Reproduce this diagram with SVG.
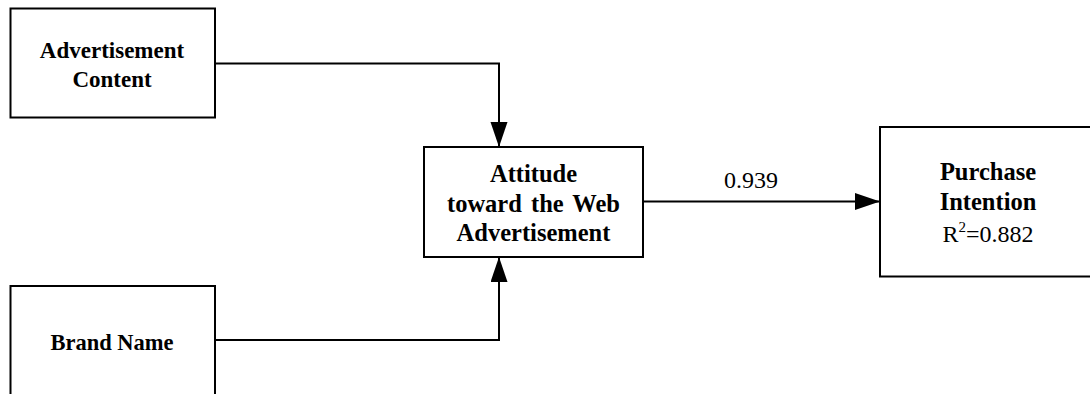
<svg xmlns="http://www.w3.org/2000/svg" width="1090" height="394" viewBox="0 0 1090 394">
<style>
.box{fill:#fff;stroke:#000;stroke-width:2}
text{font-family:'Liberation Serif',serif;fill:#000;text-anchor:middle}
.t{font-weight:bold}
.c{fill:none;stroke:#000;stroke-width:2}
</style>
<defs>
<marker id="ah" markerUnits="userSpaceOnUse" markerWidth="25" markerHeight="18" refX="25" refY="8.5" orient="auto">
<path d="M0,0 L25,8.5 L0,17 z" fill="#000"/>
</marker>
</defs>
<g id="connectors">
<path class="c" d="M215,63.5 H499 V147" marker-end="url(#ah)"/>
<path class="c" d="M215,340 H499 V257" marker-end="url(#ah)"/>
<path class="c" d="M643,201.5 H880" marker-end="url(#ah)"/>
<text x="751" y="188" font-size="24">0.939</text>
</g>
<g id="advertisement-content">
<rect class="box" x="10.5" y="8.5" width="204.5" height="109"/>
<text class="t" x="112" y="58" font-size="23">Advertisement</text>
<text class="t" x="112" y="87" font-size="23">Content</text>
</g>
<g id="attitude">
<rect class="box" x="424" y="147" width="219" height="110"/>
<text class="t" x="533.5" y="182" font-size="24.5">Attitude</text>
<text class="t" x="533.5" y="211.5" font-size="24.5" word-spacing="3">toward the Web</text>
<text class="t" x="533.5" y="241" font-size="24.5">Advertisement</text>
</g>
<g id="purchase-intention">
<rect class="box" x="880" y="127" width="220" height="149.5"/>
<text class="t" x="988" y="180" font-size="24.5">Purchase</text>
<text class="t" x="988" y="210" font-size="24.5">Intention</text>
<text x="988" y="242" font-size="24">R<tspan dy="-10" font-size="15">2</tspan><tspan dy="10">=0.882</tspan></text>
</g>
<g id="brand-name">
<rect class="box" x="10.5" y="286" width="204.5" height="120"/>
<text class="t" x="112" y="350" font-size="22.5">Brand Name</text>
</g>
</svg>
